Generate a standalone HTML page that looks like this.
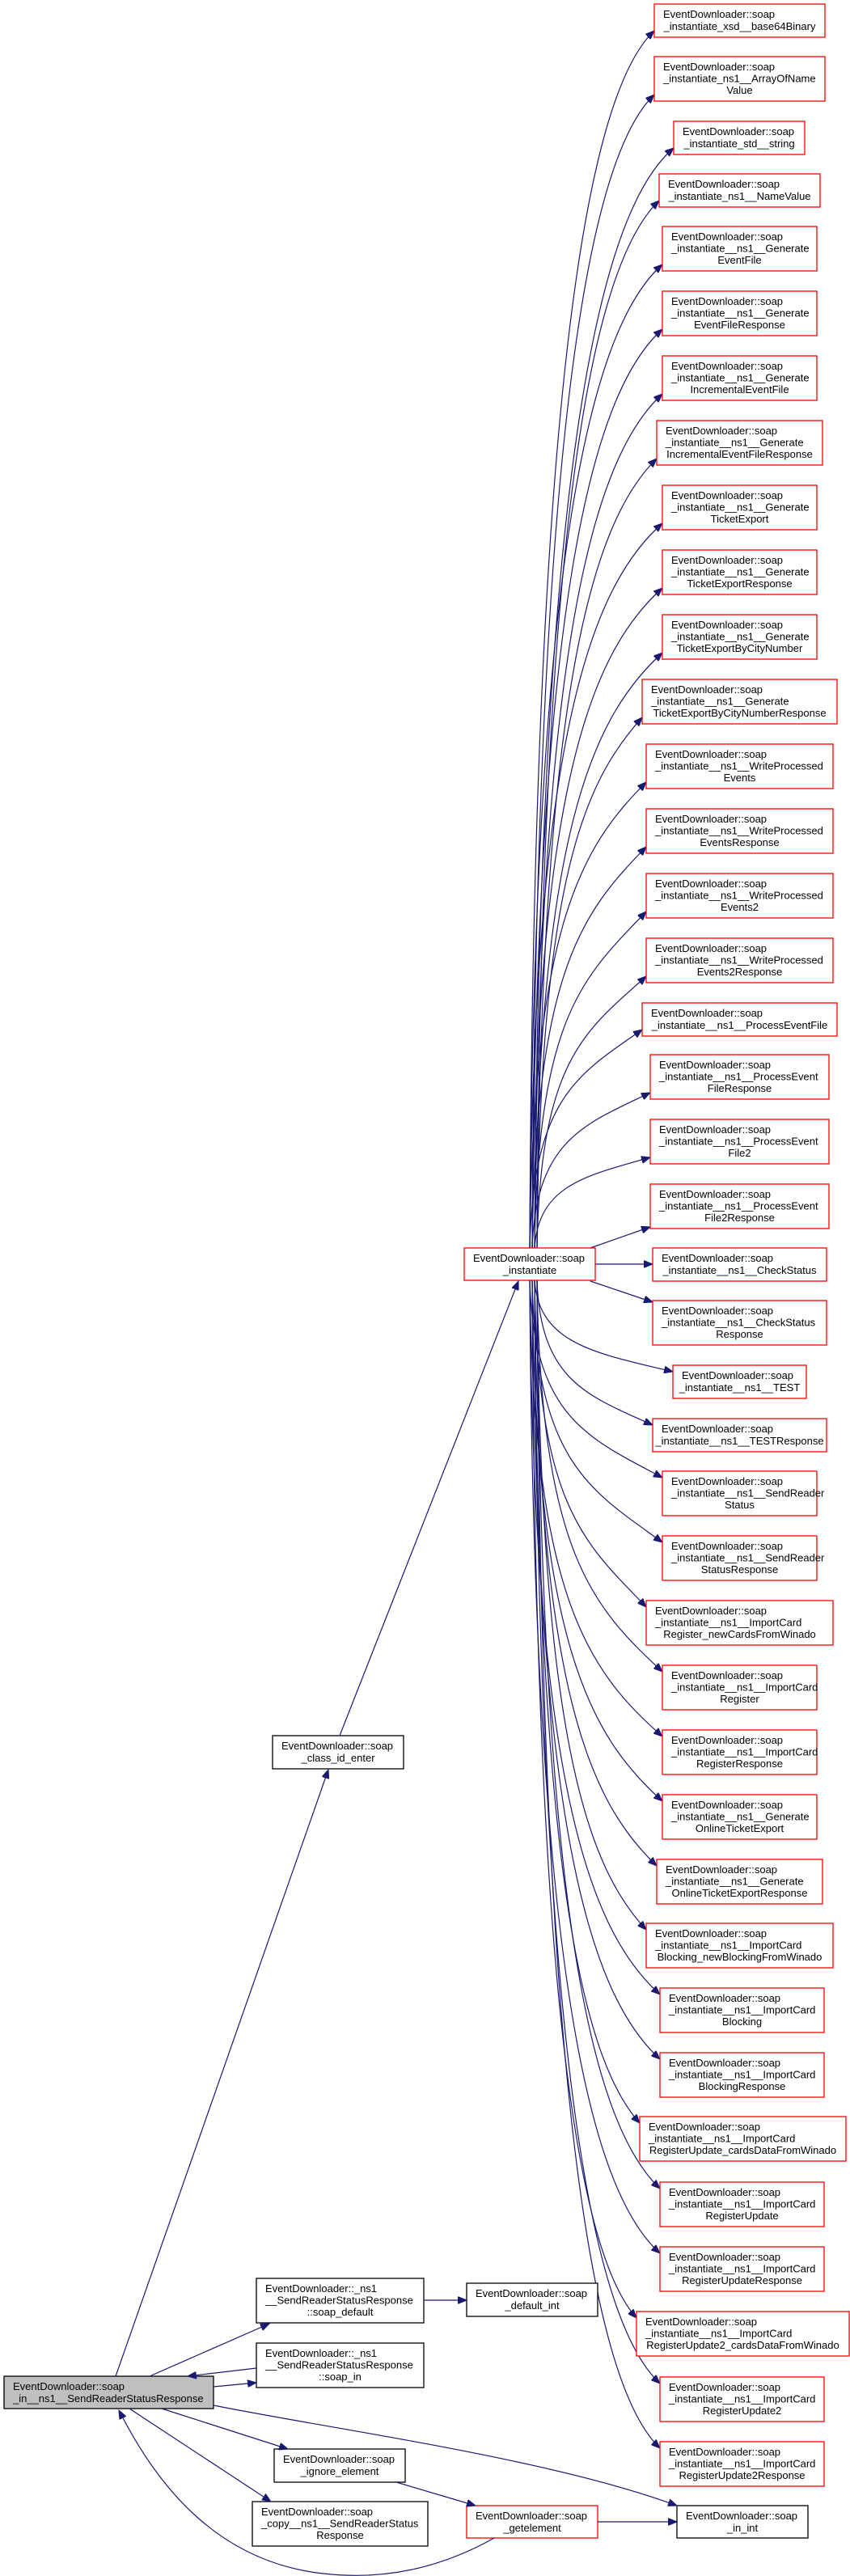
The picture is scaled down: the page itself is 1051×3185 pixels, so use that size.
<!DOCTYPE html>
<html><head><meta charset="utf-8"><style>
html,body{margin:0;padding:0;background:#fff}
svg{display:block}
text{font-family:"Liberation Sans",Arial,sans-serif;font-size:13px;fill:#000}
rect.r{fill:#fff;stroke:#ff0000;stroke-width:1.3}
rect.b{fill:#fff;stroke:#000;stroke-width:1.3}
.e{fill:none;stroke:#191970;stroke-width:1.2}
</style></head><body>
<svg id="g" width="1051" height="3185" viewBox="0 0 1051 3185" xmlns="http://www.w3.org/2000/svg">
<defs><marker id="a" markerWidth="12" markerHeight="9" refX="11" refY="4.5" orient="auto" markerUnits="userSpaceOnUse"><path d="M0,0 L11,4.5 L0,9 z" fill="#191970" stroke="#191970"/></marker></defs>
<g id="edges"></g>
<g id="nodes">
<rect class="r rn" x="809" y="5" width="211" height="41"/><text x="820" y="22">EventDownloader::soap</text><text x="914.5" y="37" text-anchor="middle">_instantiate_xsd__base64Binary</text>
<rect class="r rn" x="809" y="70" width="211" height="55"/><text x="820" y="87">EventDownloader::soap</text><text x="820" y="101.5">_instantiate_ns1__ArrayOfName</text><text x="914.5" y="116" text-anchor="middle">Value</text>
<rect class="r rn" x="833" y="150" width="162" height="41"/><text x="844" y="167">EventDownloader::soap</text><text x="914" y="182" text-anchor="middle">_instantiate_std__string</text>
<rect class="r rn" x="815" y="215" width="199" height="41"/><text x="826" y="232">EventDownloader::soap</text><text x="914.5" y="247" text-anchor="middle">_instantiate_ns1__NameValue</text>
<rect class="r rn" x="819" y="280" width="191" height="55"/><text x="830" y="297">EventDownloader::soap</text><text x="830" y="311.5">_instantiate__ns1__Generate</text><text x="914.5" y="326" text-anchor="middle">EventFile</text>
<rect class="r rn" x="819" y="360" width="191" height="55"/><text x="830" y="377">EventDownloader::soap</text><text x="830" y="391.5">_instantiate__ns1__Generate</text><text x="914.5" y="406" text-anchor="middle">EventFileResponse</text>
<rect class="r rn" x="819" y="440" width="191" height="55"/><text x="830" y="457">EventDownloader::soap</text><text x="830" y="471.5">_instantiate__ns1__Generate</text><text x="914.5" y="486" text-anchor="middle">IncrementalEventFile</text>
<rect class="r rn" x="812" y="520" width="205" height="55"/><text x="823" y="537">EventDownloader::soap</text><text x="823" y="551.5">_instantiate__ns1__Generate</text><text x="914.5" y="566" text-anchor="middle">IncrementalEventFileResponse</text>
<rect class="r rn" x="819" y="600" width="191" height="55"/><text x="830" y="617">EventDownloader::soap</text><text x="830" y="631.5">_instantiate__ns1__Generate</text><text x="914.5" y="646" text-anchor="middle">TicketExport</text>
<rect class="r rn" x="819" y="680" width="191" height="55"/><text x="830" y="697">EventDownloader::soap</text><text x="830" y="711.5">_instantiate__ns1__Generate</text><text x="914.5" y="726" text-anchor="middle">TicketExportResponse</text>
<rect class="r rn" x="819" y="760" width="191" height="55"/><text x="830" y="777">EventDownloader::soap</text><text x="830" y="791.5">_instantiate__ns1__Generate</text><text x="914.5" y="806" text-anchor="middle">TicketExportByCityNumber</text>
<rect class="r rn" x="794" y="840" width="241" height="55"/><text x="805" y="857">EventDownloader::soap</text><text x="805" y="871.5">_instantiate__ns1__Generate</text><text x="914.5" y="886" text-anchor="middle">TicketExportByCityNumberResponse</text>
<rect class="r rn" x="799" y="920" width="231" height="55"/><text x="810" y="937">EventDownloader::soap</text><text x="810" y="951.5">_instantiate__ns1__WriteProcessed</text><text x="914.5" y="966" text-anchor="middle">Events</text>
<rect class="r rn" x="799" y="1000" width="231" height="55"/><text x="810" y="1017">EventDownloader::soap</text><text x="810" y="1031.5">_instantiate__ns1__WriteProcessed</text><text x="914.5" y="1046" text-anchor="middle">EventsResponse</text>
<rect class="r rn" x="799" y="1080" width="231" height="55"/><text x="810" y="1097">EventDownloader::soap</text><text x="810" y="1111.5">_instantiate__ns1__WriteProcessed</text><text x="914.5" y="1126" text-anchor="middle">Events2</text>
<rect class="r rn" x="799" y="1160" width="231" height="55"/><text x="810" y="1177">EventDownloader::soap</text><text x="810" y="1191.5">_instantiate__ns1__WriteProcessed</text><text x="914.5" y="1206" text-anchor="middle">Events2Response</text>
<rect class="r rn" x="794" y="1240" width="241" height="41"/><text x="805" y="1257">EventDownloader::soap</text><text x="914.5" y="1272" text-anchor="middle">_instantiate__ns1__ProcessEventFile</text>
<rect class="r rn" x="804" y="1304" width="221" height="55"/><text x="815" y="1321">EventDownloader::soap</text><text x="815" y="1335.5">_instantiate__ns1__ProcessEvent</text><text x="914.5" y="1350" text-anchor="middle">FileResponse</text>
<rect class="r rn" x="804" y="1384" width="221" height="55"/><text x="815" y="1401">EventDownloader::soap</text><text x="815" y="1415.5">_instantiate__ns1__ProcessEvent</text><text x="914.5" y="1430" text-anchor="middle">File2</text>
<rect class="r rn" x="804" y="1464" width="221" height="55"/><text x="815" y="1481">EventDownloader::soap</text><text x="815" y="1495.5">_instantiate__ns1__ProcessEvent</text><text x="914.5" y="1510" text-anchor="middle">File2Response</text>
<rect class="r rn" x="807" y="1543" width="215" height="41"/><text x="818" y="1560">EventDownloader::soap</text><text x="914.5" y="1575" text-anchor="middle">_instantiate__ns1__CheckStatus</text>
<rect class="r rn" x="807" y="1608" width="215" height="55"/><text x="818" y="1625">EventDownloader::soap</text><text x="818" y="1639.5">_instantiate__ns1__CheckStatus</text><text x="914.5" y="1654" text-anchor="middle">Response</text>
<rect class="r rn" x="832" y="1688" width="165" height="41"/><text x="843" y="1705">EventDownloader::soap</text><text x="914.5" y="1720" text-anchor="middle">_instantiate__ns1__TEST</text>
<rect class="r rn" x="807" y="1754" width="215" height="41"/><text x="818" y="1771">EventDownloader::soap</text><text x="914.5" y="1786" text-anchor="middle">_instantiate__ns1__TESTResponse</text>
<rect class="r rn" x="819" y="1819" width="191" height="55"/><text x="830" y="1836">EventDownloader::soap</text><text x="830" y="1850.5">_instantiate__ns1__SendReader</text><text x="914.5" y="1865" text-anchor="middle">Status</text>
<rect class="r rn" x="819" y="1899" width="191" height="55"/><text x="830" y="1916">EventDownloader::soap</text><text x="830" y="1930.5">_instantiate__ns1__SendReader</text><text x="914.5" y="1945" text-anchor="middle">StatusResponse</text>
<rect class="r rn" x="799" y="1979" width="231" height="55"/><text x="810" y="1996">EventDownloader::soap</text><text x="810" y="2010.5">_instantiate__ns1__ImportCard</text><text x="914.5" y="2025" text-anchor="middle">Register_newCardsFromWinado</text>
<rect class="r rn" x="819" y="2059" width="191" height="55"/><text x="830" y="2076">EventDownloader::soap</text><text x="830" y="2090.5">_instantiate__ns1__ImportCard</text><text x="914.5" y="2105" text-anchor="middle">Register</text>
<rect class="r rn" x="819" y="2139" width="191" height="55"/><text x="830" y="2156">EventDownloader::soap</text><text x="830" y="2170.5">_instantiate__ns1__ImportCard</text><text x="914.5" y="2185" text-anchor="middle">RegisterResponse</text>
<rect class="r rn" x="819" y="2219" width="191" height="55"/><text x="830" y="2236">EventDownloader::soap</text><text x="830" y="2250.5">_instantiate__ns1__Generate</text><text x="914.5" y="2265" text-anchor="middle">OnlineTicketExport</text>
<rect class="r rn" x="812" y="2299" width="205" height="55"/><text x="823" y="2316">EventDownloader::soap</text><text x="823" y="2330.5">_instantiate__ns1__Generate</text><text x="914.5" y="2345" text-anchor="middle">OnlineTicketExportResponse</text>
<rect class="r rn" x="799" y="2378" width="231" height="55"/><text x="810" y="2395">EventDownloader::soap</text><text x="810" y="2409.5">_instantiate__ns1__ImportCard</text><text x="914.5" y="2424" text-anchor="middle">Blocking_newBlockingFromWinado</text>
<rect class="r rn" x="816" y="2458" width="203" height="55"/><text x="827" y="2475">EventDownloader::soap</text><text x="827" y="2489.5">_instantiate__ns1__ImportCard</text><text x="917.5" y="2504" text-anchor="middle">Blocking</text>
<rect class="r rn" x="816" y="2538" width="203" height="55"/><text x="827" y="2555">EventDownloader::soap</text><text x="827" y="2569.5">_instantiate__ns1__ImportCard</text><text x="917.5" y="2584" text-anchor="middle">BlockingResponse</text>
<rect class="r rn" x="791" y="2617" width="255" height="55"/><text x="802" y="2634">EventDownloader::soap</text><text x="802" y="2648.5">_instantiate__ns1__ImportCard</text><text x="918.5" y="2663" text-anchor="middle">RegisterUpdate_cardsDataFromWinado</text>
<rect class="r rn" x="816" y="2698" width="203" height="55"/><text x="827" y="2715">EventDownloader::soap</text><text x="827" y="2729.5">_instantiate__ns1__ImportCard</text><text x="917.5" y="2744" text-anchor="middle">RegisterUpdate</text>
<rect class="r rn" x="816" y="2778" width="203" height="55"/><text x="827" y="2795">EventDownloader::soap</text><text x="827" y="2809.5">_instantiate__ns1__ImportCard</text><text x="917.5" y="2824" text-anchor="middle">RegisterUpdateResponse</text>
<rect class="r rn" x="787" y="2858" width="263" height="55"/><text x="798" y="2875">EventDownloader::soap</text><text x="798" y="2889.5">_instantiate__ns1__ImportCard</text><text x="918.5" y="2904" text-anchor="middle">RegisterUpdate2_cardsDataFromWinado</text>
<rect class="r rn" x="816" y="2939" width="203" height="55"/><text x="827" y="2956">EventDownloader::soap</text><text x="827" y="2970.5">_instantiate__ns1__ImportCard</text><text x="917.5" y="2985" text-anchor="middle">RegisterUpdate2</text>
<rect class="r rn" x="816" y="3019" width="203" height="55"/><text x="827" y="3036">EventDownloader::soap</text><text x="827" y="3050.5">_instantiate__ns1__ImportCard</text><text x="917.5" y="3065" text-anchor="middle">RegisterUpdate2Response</text>

<rect class="r" x="574" y="1543" width="162" height="40"/><text x="585" y="1560">EventDownloader::soap</text><text x="655" y="1575" text-anchor="middle">_instantiate</text>
<rect class="b" x="337" y="2146" width="162" height="41"/><text x="348" y="2163">EventDownloader::soap</text><text x="418" y="2178" text-anchor="middle">_class_id_enter</text>
<rect class="b" x="5" y="2938" width="259" height="40" style="fill:#bfbfbf"/><text x="16" y="2955">EventDownloader::soap</text><text x="16" y="2970">_in__ns1__SendReaderStatusResponse</text>
<rect class="b" x="317" y="2817" width="207" height="55"/><text x="328" y="2834">EventDownloader::_ns1</text><text x="328" y="2848.5">__SendReaderStatusResponse</text><text x="420.5" y="2863" text-anchor="middle">::soap_default</text>
<rect class="b" x="577" y="2823" width="162" height="41"/><text x="588" y="2840">EventDownloader::soap</text><text x="658" y="2855" text-anchor="middle">_default_int</text>
<rect class="b" x="317" y="2897" width="207" height="55"/><text x="328" y="2914">EventDownloader::_ns1</text><text x="328" y="2928.5">__SendReaderStatusResponse</text><text x="420.5" y="2943" text-anchor="middle">::soap_in</text>
<rect class="b" x="339" y="3028" width="162" height="41"/><text x="350" y="3045">EventDownloader::soap</text><text x="420" y="3060" text-anchor="middle">_ignore_element</text>
<rect class="b" x="312" y="3093" width="217" height="55"/><text x="323" y="3110">EventDownloader::soap</text><text x="323" y="3124.5">_copy__ns1__SendReaderStatus</text><text x="420.5" y="3139" text-anchor="middle">Response</text>
<rect class="r" x="577" y="3098" width="162" height="40"/><text x="588" y="3115">EventDownloader::soap</text><text x="658" y="3130" text-anchor="middle">_getelement</text>
<rect class="b" x="837" y="3098" width="162" height="40"/><text x="848" y="3115">EventDownloader::soap</text><text x="918" y="3130" text-anchor="middle">_in_int</text>
</g>
<g id="fixed">
<path class="e" marker-end="url(#a)" d="M143,2938 L406,2188"/>
<path class="e" marker-end="url(#a)" d="M420,2146 L641,1584"/>
<path class="e" marker-end="url(#a)" d="M185,2938 L333,2873"/>
<path class="e" marker-end="url(#a)" d="M317,2928 L232,2938"/>
<path class="e" marker-end="url(#a)" d="M264,2951 L317,2946"/>
<path class="e" marker-end="url(#a)" d="M524,2844 L577,2844"/>
<path class="e" marker-end="url(#a)" d="M264,2974 C420,3005 680,3040 837,3098"/>
<path class="e" marker-end="url(#a)" d="M200,2978 L356,3028"/>
<path class="e" marker-end="url(#a)" d="M160,2978 L335,3093"/>
<path class="e" marker-end="url(#a)" d="M490,3069 L588,3098"/>
<path class="e" marker-end="url(#a)" d="M739,3118 L837,3118"/>
<path class="e" marker-end="url(#a)" d="M611,3138 C540,3178 470,3190 400,3182 C270,3168 195,3075 147,2980"/>
</g>
</svg>
<script>
(function(){
var g=document.getElementById('edges');
var rs=document.querySelectorAll('rect.rn');
var n=rs.length, out='';
for(var i=0;i<n;i++){
 var r=rs[i];
 var x=+r.getAttribute('x'), y=+r.getAttribute('y'), h=+r.getAttribute('height');
 var cy=y+h/2, d;
 if(i===19){d='M730,1543 L804,1517';}
 else if(i===20){d='M736,1563 L807,1563';}
 else if(i===21){d='M730,1584 L807,1610';}
 else if(cy<1563){
   var sx=655+(i%4)*3, sy=1544, ex=x, ey=y+h-8;
   var dx=ex-sx, dy=sy-ey;
   d='M'+sx+','+sy+' C'+(sx+dx*0.03)+','+(sy-dy*0.7)+' '+(ex-dx*0.55)+','+(ey+Math.min(dy*0.2,80))+' '+ex+','+ey;
 } else {
   var sx=655+(i%4)*3, sy=1583, ex=x, ey=y+8;
   var dx=ex-sx, dy=ey-sy;
   d='M'+sx+','+sy+' C'+(sx+dx*0.03)+','+(sy+dy*0.7)+' '+(ex-dx*0.55)+','+(ey-Math.min(dy*0.2,80))+' '+ex+','+ey;
 }
 out+='<path class="e" marker-end="url(#a)" d="'+d+'"/>';
}
g.innerHTML=out;
})();
</script>
</body></html>
